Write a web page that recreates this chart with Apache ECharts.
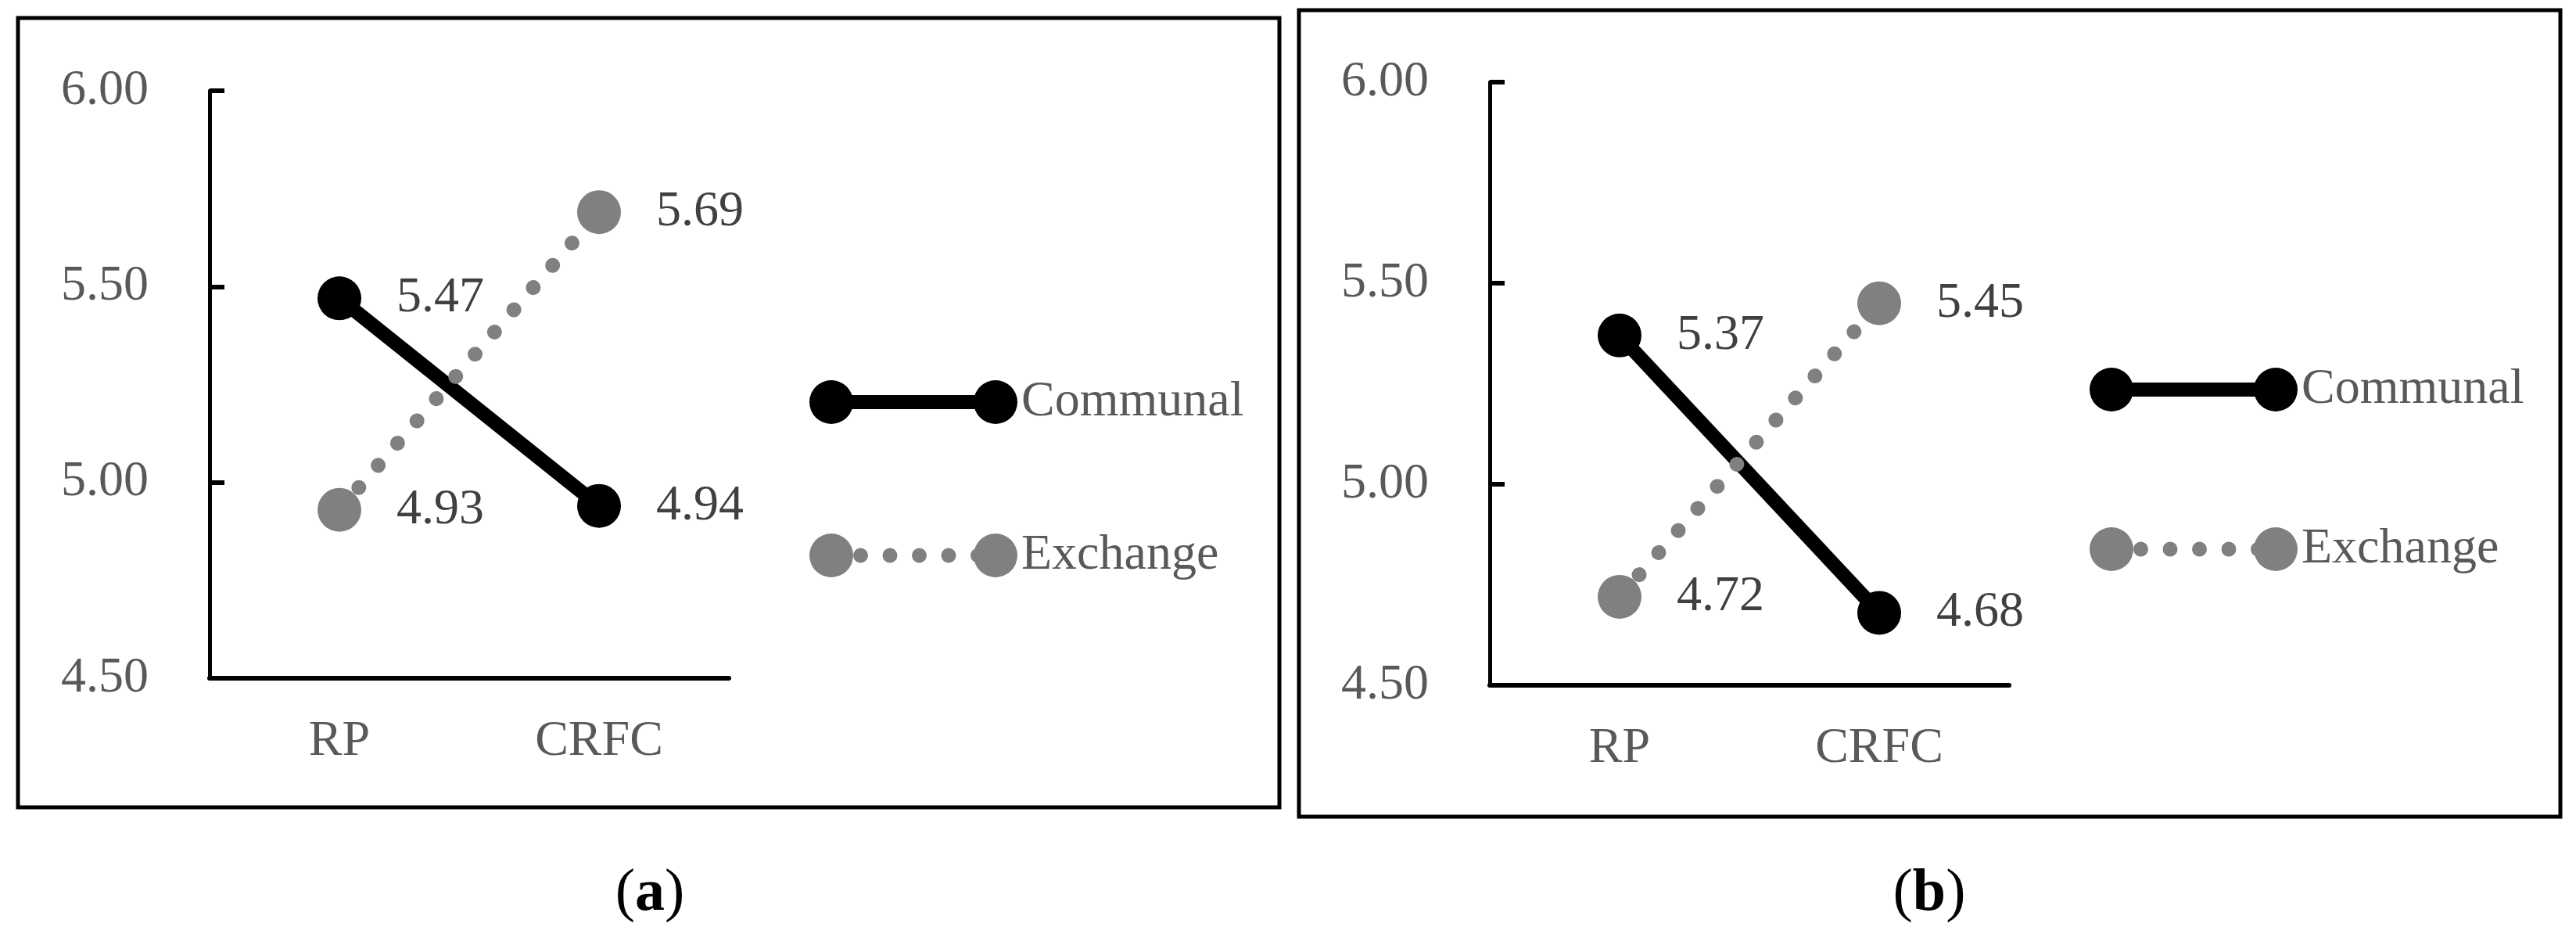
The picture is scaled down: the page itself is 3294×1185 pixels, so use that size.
<!DOCTYPE html>
<html><head><meta charset="utf-8">
<script src="https://cdn.jsdelivr.net/npm/echarts@6/dist/echarts.min.js"></script>
<style>html,body{margin:0;padding:0;background:#fff}#c{width:3294px;height:1185px}</style>
</head><body><div id="c"></div>
<script>
// ---- data ----
const categories = ['RP', 'CRFC'];
const seriesNames = ['Communal', 'Exchange'];
const communalA = [5.47, 4.94];
const exchangeA = [4.93, 5.69];
const communalB = [5.37, 4.68];
const exchangeB = [4.72, 5.45];
const yMin = 4.5, yMax = 6.0, yStep = 0.5;
const panelLetters = ['a', 'b'];

// ---- styling / layout ----
const FONT = '"Liberation Serif", "Times New Roman", serif';
const BLACK = '#000000', GRAY = '#808080';
const grids = [
  { left: 268, top: 116, width: 664, height: 751 },
  { left: 1905, top: 105, width: 664, height: 771 }
];
const legendPos = [
  { left: 1035, top: 482, itemGap: 132 },
  { left: 2672, top: 466, itemGap: 140 }
];
const borders = [
  { x: 23, y: 23, width: 1613, height: 1009 },
  { x: 1661, y: 13, width: 1613, height: 1031 }
];
const titlePos = [[831, 1143], [2467, 1143]];

function circ(cx, cy, r) {
  return `M${cx - r},${cy}A${r},${r},0,1,1,${cx + r},${cy}A${r},${r},0,1,1,${cx - r},${cy}Z`;
}
const iconSolid = 'path://' + circ(28, 28, 28) + circ(238, 28, 28) + 'M50,19L216,19L216,37L50,37Z';
let dots = '';
for (let k = 1; k <= 5; k++) dots += circ(28 + 37.5 * k, 28, 9.5);
const iconDotted = 'path://' + circ(28, 28, 28) + circ(238, 28, 28) + dots;

const axisLabelStyle = { fontSize: 64, fontFamily: FONT, color: '#595959' };
const dataLabel = {
  show: true, position: 'right', distance: 45,
  formatter: p => Number(p.value).toFixed(2),
  fontSize: 64, fontFamily: FONT, color: '#404040'
};

const xAxes = [], yAxes = [], series = [], legends = [], graphics = [];
const panelData = [[communalA, exchangeA], [communalB, exchangeB]];

panelData.forEach((pd, i) => {
  xAxes.push({
    type: 'category', gridIndex: i, data: categories, boundaryGap: true,
    axisLine: { show: true, lineStyle: { color: BLACK, width: 6 } },
    axisTick: { show: false },
    axisLabel: Object.assign({ margin: 49 }, axisLabelStyle),
    splitLine: { show: false }
  });
  yAxes.push({
    type: 'value', gridIndex: i, min: yMin, max: yMax, interval: yStep,
    axisLine: { show: true, lineStyle: { color: BLACK, width: 5 } },
    axisTick: { show: true, inside: true, length: 19, lineStyle: { color: BLACK, width: 6 } },
    axisLabel: Object.assign({ margin: 78, formatter: v => v.toFixed(2) }, axisLabelStyle),
    splitLine: { show: false }
  });
  series.push({
    type: 'line', name: seriesNames[0], xAxisIndex: i, yAxisIndex: i, data: pd[0],
    symbol: 'circle', symbolSize: 56,
    itemStyle: { color: BLACK },
    lineStyle: { color: BLACK, width: 18 },
    label: dataLabel, emphasis: { disabled: true }, z: 2
  });
  series.push({
    type: 'line', name: seriesNames[1], xAxisIndex: i, yAxisIndex: i, data: pd[1],
    symbol: 'circle', symbolSize: 56,
    itemStyle: { color: GRAY },
    lineStyle: { color: GRAY, width: 19, type: [0.1, 37.6], cap: 'round' },
    label: dataLabel, emphasis: { disabled: true }, z: 3
  });
  legends.push({
    orient: 'vertical', left: legendPos[i].left, top: legendPos[i].top,
    itemGap: legendPos[i].itemGap, itemWidth: 266, itemHeight: 56, padding: 0,
    selectedMode: false, symbolKeepAspect: true,
    itemStyle: { borderWidth: 0 },
    data: [{ name: seriesNames[0], icon: iconSolid }, { name: seriesNames[1], icon: iconDotted }],
    textStyle: { fontSize: 64, fontFamily: FONT, color: '#595959', lineHeight: 56 }
  });
  graphics.push({
    type: 'rect', shape: borders[i], silent: true,
    style: { fill: 'none', stroke: BLACK, lineWidth: 5 }
  });
  graphics.push({
    type: 'text', x: titlePos[i][0], y: titlePos[i][1], silent: true,
    style: {
      text: '{p|(}{b|' + panelLetters[i] + '}{p|)}',
      align: 'center', verticalAlign: 'middle',
      rich: {
        p: { fontSize: 76, fontFamily: FONT, fill: BLACK },
        b: { fontSize: 76, fontFamily: FONT, fontWeight: 'bold', fill: BLACK }
      }
    }
  });
});

const chart = echarts.init(document.getElementById('c'), null, { renderer: 'canvas' });
chart.setOption({
  animation: false,
  backgroundColor: '#ffffff',
  grid: grids.map(g => Object.assign({ containLabel: false }, g)),
  xAxis: xAxes,
  yAxis: yAxes,
  legend: legends,
  series: series,
  graphic: graphics
});
</script>
</body></html>
